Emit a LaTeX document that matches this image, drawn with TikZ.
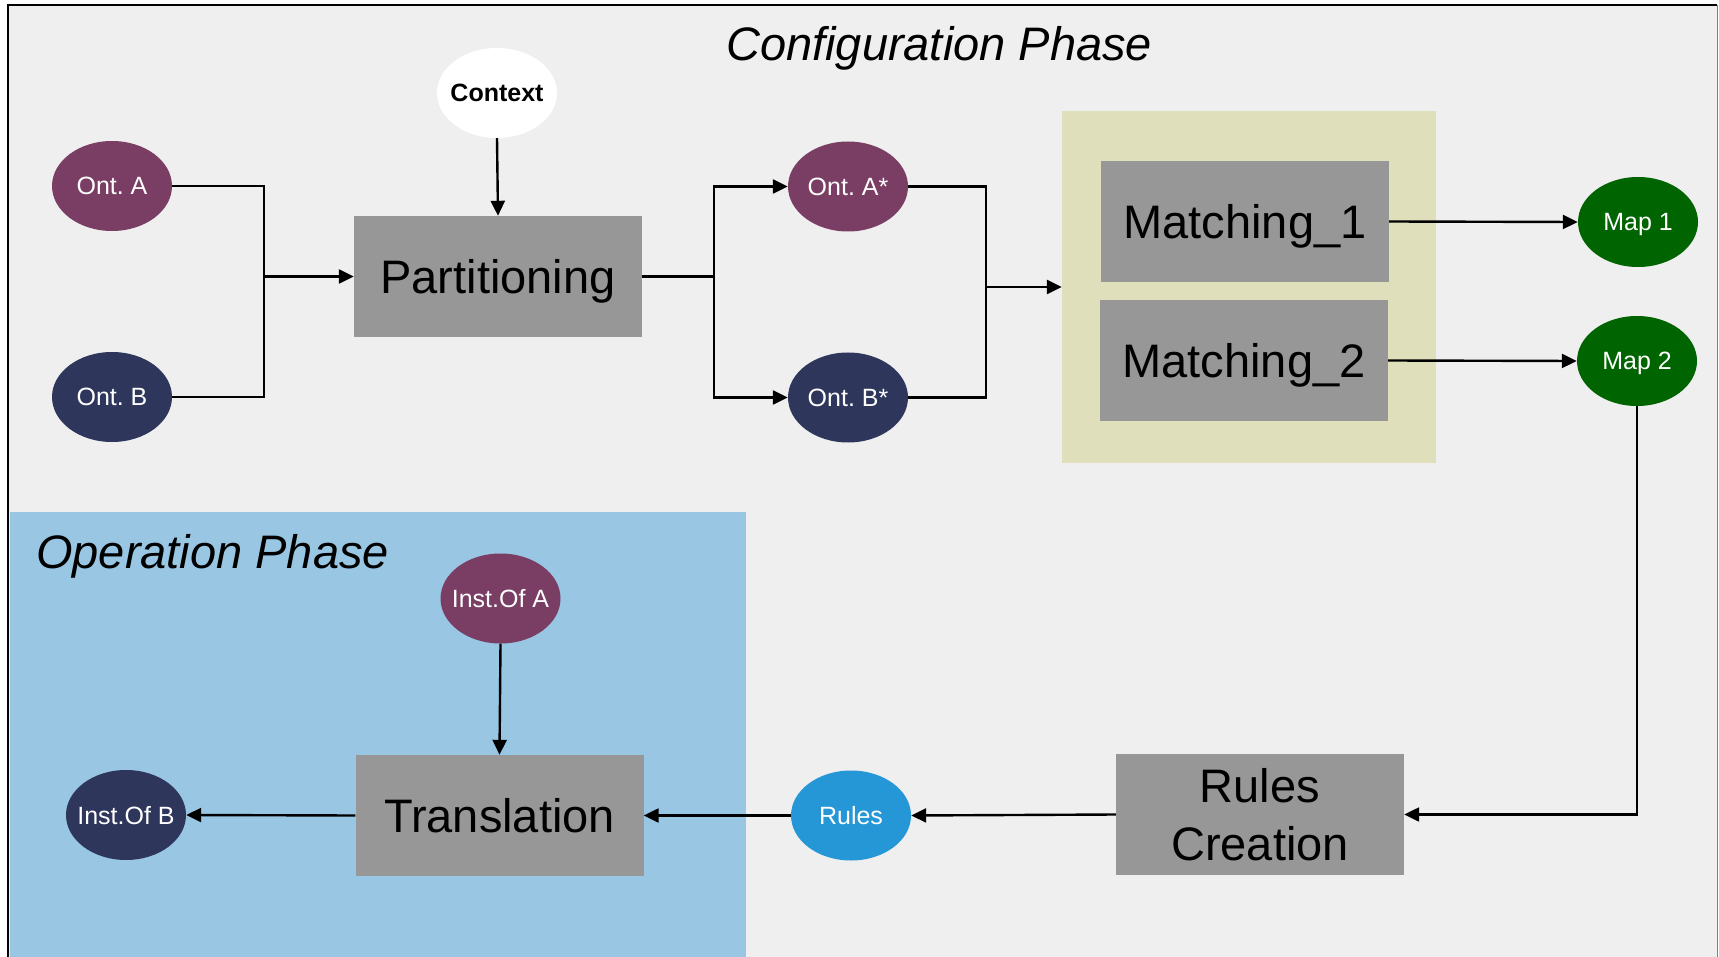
\documentclass[tikz,border=0pt]{standalone}
\usepackage{fontspec}
\setmainfont{Liberation Sans}
\usetikzlibrary{shapes.geometric,arrows.meta}
\frenchspacing
\definecolor{bggray}{HTML}{EFEFEF}
\definecolor{boxgray}{HTML}{979797}
\definecolor{ontpurple}{HTML}{7A3D63}
\definecolor{ontnavy}{HTML}{2E365C}
\definecolor{mapgreen}{HTML}{006400}
\definecolor{rulesblue}{HTML}{2596D6}
\definecolor{opblue}{HTML}{98C6E3}
\definecolor{matchyellow}{HTML}{DFDFBC}
\newcommand{\ztext}[1]{\makebox[0pt][c]{#1}}
\tikzset{
  bigfont/.style={font=\fontsize{47}{58}\selectfont},
  smallfont/.style={font=\fontsize{25}{30}\selectfont},
  procbox/.style={rectangle, fill=boxgray, draw=none, bigfont, text=black,
    minimum width=288pt, minimum height=121pt, inner sep=0pt},
  oneline/.style={text height=34pt, text depth=0pt},
  ell/.style={ellipse, draw=none, minimum width=120pt, minimum height=90pt,
    inner sep=0pt, smallfont, text=white, text height=18pt, text depth=0pt},
  conn/.style={line width=2.4pt, draw=black},
  arr/.style={conn, -{Triangle[length=15pt,width=14pt]}},
  title/.style={font=\fontsize{47}{56}\selectfont\itshape, anchor=base west, inner sep=0pt}
}
\begin{document}
\begin{tikzpicture}[x=1pt,y=-1pt]
\useasboundingbox (0,0) rectangle (1719,957);
\fill[white] (0,0) rectangle (1719,957);
\fill[bggray] (8,5) rectangle (1717,957);
\draw[line width=2pt] (8,957) -- (8,5) -- (1717,5);
\draw[line width=1pt, gray] (1717,5) -- (1717,957);
% operation phase area
\fill[opblue] (10,512) rectangle (746,957);
% matching area
\node[rectangle, fill=matchyellow, minimum width=374pt, minimum height=352pt, inner sep=0pt] (match) at (1249,287) {};

% titles
\node[title] (conftitle) at (726,61) {Configuration Phase};
\node[title] (optitle) at (36,568) {Operation Phase};

% nodes
\node[ell, fill=white, text=black, font=\fontsize{25}{30}\selectfont\bfseries] (context) at (497,93) {\ztext{Context}};
\node[ell, fill=ontpurple] (onta) at (112,186) {\ztext{Ont. A}};
\node[ell, fill=ontnavy] (ontb) at (112,397) {\ztext{Ont. B}};
\node[procbox, oneline] (part) at (498,276.5) {Partitioning};
\node[ell, fill=ontpurple] (ontas) at (848,186.5) {\ztext{Ont. A*}};
\node[ell, fill=ontnavy] (ontbs) at (848,397.5) {\ztext{Ont. B*}};
\node[procbox, oneline] (m1) at (1245,221.5) {Matching\_1};
\node[procbox, oneline] (m2) at (1244,360.5) {Matching\_2};
\node[ell, fill=mapgreen] (map1) at (1638,222) {\ztext{Map 1}};
\node[ell, fill=mapgreen] (map2) at (1637,361) {\ztext{Map 2}};
\node[procbox, align=center] (rc) at (1260,814.5) {Rules\\Creation};
\node[ell, fill=rulesblue] (rules) at (851,815.5) {\ztext{Rules}};
\node[procbox, oneline] (trans) at (499.5,815.5) {Translation};
\node[ell, fill=ontpurple] (insta) at (500.5,598.5) {\ztext{Inst.Of A}};
\node[ell, fill=ontnavy] (instb) at (126,815) {\ztext{Inst.Of B}};

% junctions
\coordinate (j1) at (264,276.5);
\coordinate (j2) at (714,276.5);
\coordinate (j3) at (986,287);

% connectors
\draw[arr] (context.south) -- (part.north);
\draw[conn] (onta.east) -| (j1);
\draw[conn] (ontb.east) -| (j1);
\draw[arr] (j1) -- (part.west);
\draw[conn] (part.east) -- (j2);
\draw[arr] (j2) |- (ontas.west);
\draw[arr] (j2) |- (ontbs.west);
\draw[conn] (ontas.east) -| (j3);
\draw[conn] (ontbs.east) -| (j3);
\draw[arr] (j3) -- (match.west);
\draw[arr] (m1.east) -- (map1.west);
\draw[arr] (m2.east) -- (map2.west);
\draw[arr] (map2.south) |- (rc.east);
\draw[arr] (rc.west) -- (rules.east);
\draw[arr] (rules.west) -- (trans.east);
\draw[arr] (insta.south) -- (trans.north);
\draw[arr] (trans.west) -- (instb.east);
\end{tikzpicture}
\end{document}
